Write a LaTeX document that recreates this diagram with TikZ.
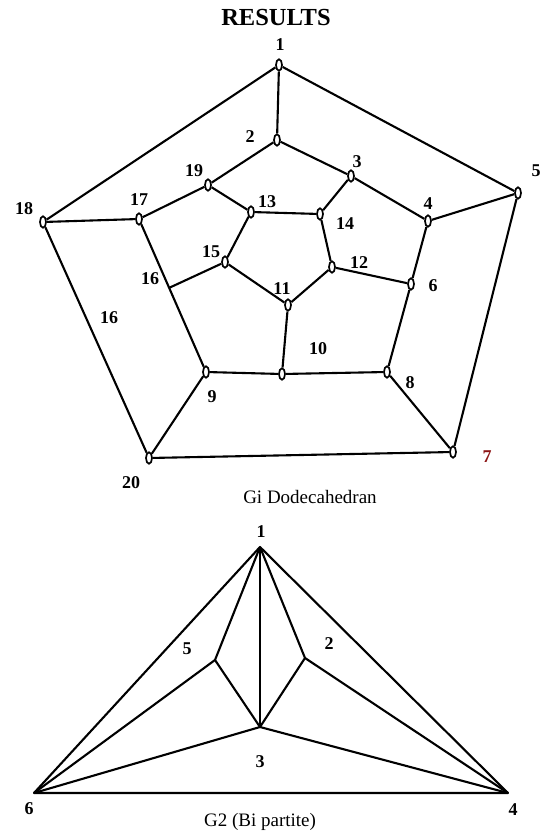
\documentclass[tikz,border=0pt]{standalone}
\usepackage{fontspec}
\setmainfont{Liberation Serif}
\usetikzlibrary{shapes.geometric,calc}
\definecolor{darkred}{RGB}{140,20,20}
\tikzset{
  vert/.style={ellipse,draw,fill=white,line width=1.7pt,inner sep=0pt,minimum width=6pt,minimum height=11.5pt},
  num/.style={font=\fontsize{18}{18}\selectfont\bfseries,inner sep=0pt},
  edge/.style={line width=2.1pt,line join=round},
  caption/.style={font=\fontsize{19}{19}\selectfont,inner sep=0pt}
}
\begin{document}
\begin{tikzpicture}[x=1pt,y=-1pt]
\useasboundingbox (0,0) rectangle (539,833);
\node[font=\fontsize{24.5}{25}\selectfont\bfseries] (title) at (276,18) {RESULTS};
% dodecahedron vertices
\node[vert] (v1) at (279,65) {};
\node[vert] (v2) at (277,140) {};
\node[vert] (v3) at (351,176) {};
\node[vert] (v4) at (428,221) {};
\node[vert] (v5) at (518,193) {};
\node[vert] (v6) at (411,284) {};
\node[vert] (v7) at (453,452) {};
\node[vert] (v8) at (387,372) {};
\node[vert] (v9) at (206,372) {};
\node[vert] (v10) at (282,374) {};
\node[vert] (v11) at (288,305) {};
\node[vert] (v12) at (332,267) {};
\node[vert] (v13) at (251,212) {};
\node[vert] (v14) at (320,214) {};
\node[vert] (v15) at (225,262) {};
\node[vert] (v17) at (139,219) {};
\node[vert] (v18) at (43,222) {};
\node[vert] (v19) at (208,185) {};
\node[vert] (v20) at (149,458) {};
\coordinate (v16) at ($(v17)!0.45!(v9)$);
% edges
\draw[edge] (v1) -- (v2);
\draw[edge] (v1) -- (v18);
\draw[edge] (v1) -- (v5);
\draw[edge] (v2) -- (v19);
\draw[edge] (v2) -- (v3);
\draw[edge] (v3) -- (v4);
\draw[edge] (v3) -- (v14);
\draw[edge] (v4) -- (v5);
\draw[edge] (v4) -- (v6);
\draw[edge] (v5) -- (v7);
\draw[edge] (v18) -- (v17);
\draw[edge] (v18) -- (v20);
\draw[edge] (v17) -- (v19);
\draw[edge] (v17) -- (v9);
\draw[edge] (v19) -- (v13);
\draw[edge] (v13) -- (v14);
\draw[edge] (v13) -- (v15);
\draw[edge] (v14) -- (v12);
\draw[edge] (v15) -- (v16);
\draw[edge] (v15) -- (v11);
\draw[edge] (v12) -- (v11);
\draw[edge] (v12) -- (v6);
\draw[edge] (v11) -- (v10);
\draw[edge] (v6) -- (v8);
\draw[edge] (v9) -- (v10);
\draw[edge] (v10) -- (v8);
\draw[edge] (v8) -- (v7);
\draw[edge] (v9) -- (v20);
\draw[edge] (v20) -- (v7);
% labels
\node[num] (l1) at (280,45) {1};
\node[num] (l2) at (250,137) {2};
\node[num] (l3) at (357,162) {3};
\node[num] (l4) at (428,204) {4};
\node[num] (l5) at (536,171) {5};
\node[num] (l6) at (433,286) {6};
\node[num,text=darkred] (l7) at (487,457) {7};
\node[num] (l8) at (410,383) {8};
\node[num] (l9) at (212,397) {9};
\node[num] (l10) at (318,349) {10};
\node[num] (l11) at (282,289) {11};
\node[num] (l12) at (359,263) {12};
\node[num] (l13) at (267,202) {13};
\node[num] (l14) at (345,224) {14};
\node[num] (l15) at (211,252) {15};
\node[num] (l16) at (150,279) {16};
\node[num] (l16b) at (109,318) {16};
\node[num] (l17) at (139,200) {17};
\node[num] (l18) at (24,209) {18};
\node[num] (l19) at (194,171) {19};
\node[num] (l20) at (131,483) {20};
\node[caption] (capa) at (310,497) {Gi Dodecahedran};
% bipartite graph
\coordinate (b1) at (260,547);
\coordinate (b2) at (305,658);
\coordinate (b3) at (260,727);
\coordinate (b4) at (508,793);
\coordinate (b5) at (215,660);
\coordinate (b6) at (34,793);
\draw[edge] (b1) -- (b6) -- (b4) -- cycle;
\draw[edge] (b1) -- (b5) -- (b6);
\draw[edge] (b1) -- (b2) -- (b4);
\draw[edge] (b1) -- (b3);
\draw[edge] (b5) -- (b3) -- (b2);
\draw[edge] (b6) -- (b3) -- (b4);
\node[num] (m1) at (261,532) {1};
\node[num] (m2) at (329,644) {2};
\node[num] (m3) at (260,762) {3};
\node[num] (m4) at (513,810) {4};
\node[num] (m5) at (187,649) {5};
\node[num] (m6) at (29,809) {6};
\node[caption] (capb) at (260,822) {G2 (Bi partite)};
\end{tikzpicture}
\end{document}
